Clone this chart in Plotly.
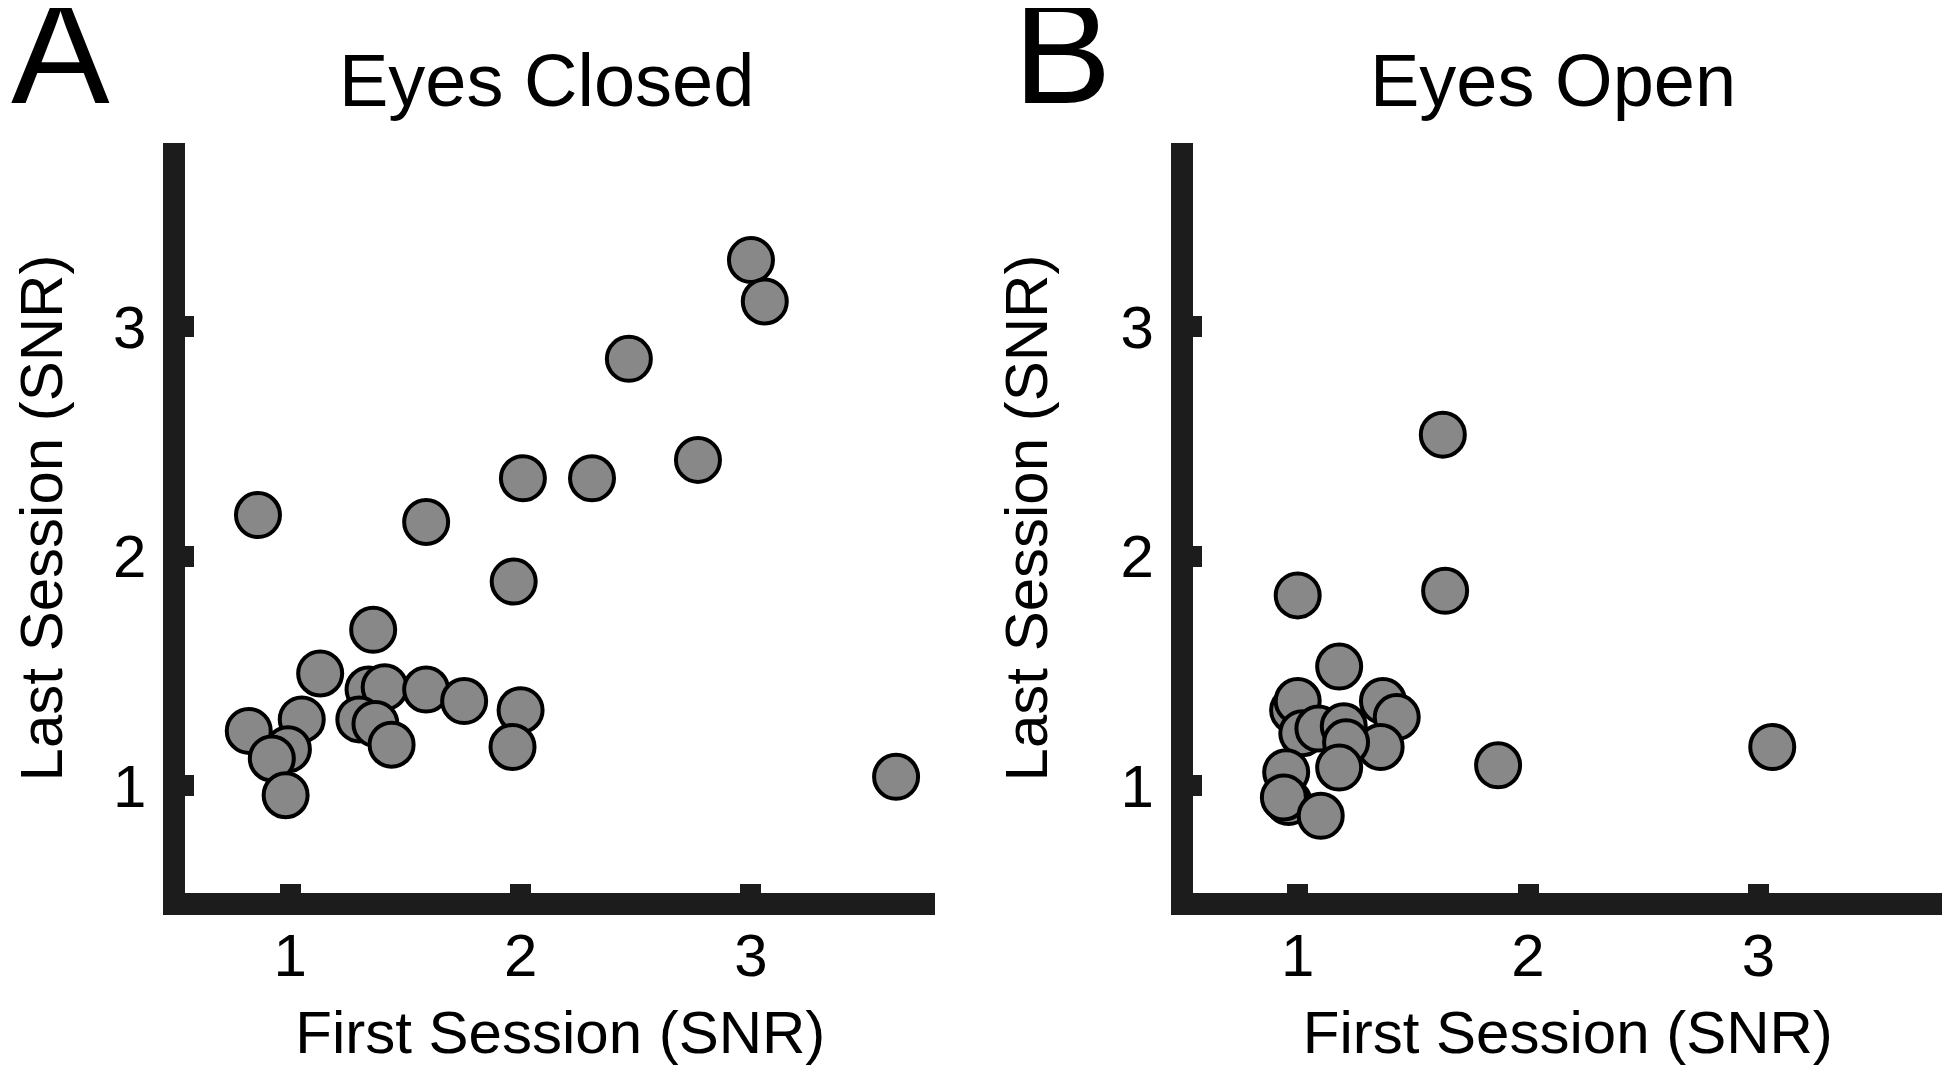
import plotly.graph_objects as go

# Eyes closed: first session vs last session SNR
closed_first = [0.86, 0.82, 1.05, 1.13, 0.99, 0.92, 0.98, 1.36, 1.34, 1.41, 1.30, 1.37, 1.44,
                1.59, 1.755, 2.00, 1.965, 1.97, 1.59, 2.01, 2.31, 2.77, 2.47, 3.00, 3.06, 3.63]
closed_last = [2.18, 1.24, 1.29, 1.49, 1.16, 1.12, 0.96, 1.68, 1.42, 1.43, 1.29, 1.27, 1.18,
               1.42, 1.37, 1.33, 1.17, 1.89, 2.15, 2.34, 2.34, 2.42, 2.86, 3.29, 3.11, 1.04]

# Eyes open
open_first = [1.00, 1.64, 1.63, 1.18, 0.98, 1.00, 1.37, 1.43, 1.36, 1.02, 1.09, 1.20, 1.21,
              1.18, 0.95, 0.96, 0.94, 1.10, 1.87, 3.06]
open_last = [1.83, 1.85, 2.53, 1.52, 1.33, 1.37, 1.37, 1.30, 1.17, 1.23, 1.25, 1.26, 1.19,
             1.08, 1.06, 0.93, 0.95, 0.87, 1.09, 1.17]

tick_vals = [1, 2, 3]
tick_text = ['1', '2', '3']

FONT = 'Liberation Sans, Arial, sans-serif'
INK = '#1c1c1c'
# page body has an 8px margin, so the figure is 8px smaller each way
W, H = 1942, 1064

marker = dict(size=44, color='#888888', line=dict(color='black', width=4))

fig = go.Figure()
fig.add_trace(go.Scatter(x=closed_first, y=closed_last, mode='markers', marker=marker,
                         xaxis='x', yaxis='y', showlegend=False))
fig.add_trace(go.Scatter(x=open_first, y=open_last, mode='markers', marker=marker,
                         xaxis='x2', yaxis='y2', showlegend=False))

axis_common = dict(
    range=[0.545, 3.8], showline=True, linewidth=22, linecolor=INK,
    ticks='inside', ticklen=9, tickwidth=21, tickcolor=INK,
    tickvals=tick_vals, ticktext=tick_text, showgrid=False, zeroline=False,
    tickfont=dict(family=FONT, size=60, color='black'),
)
xaxis_common = dict(axis_common, ticklabelstandoff=-11)
yaxis_common = dict(axis_common, range=[0.534, 3.8], ticklabelstandoff=5)

title_font = dict(family=FONT, size=60, color='black')
ydom = [0.16823, 0.87312]

fig.update_layout(
    width=W, height=H,
    margin=dict(l=0, r=0, t=0, b=0),
    paper_bgcolor='white', plot_bgcolor='white',
    xaxis=dict(xaxis_common, domain=[0.09042, 0.47693], anchor='y',
               title=dict(text='First Session (SNR)', font=title_font, standoff=33)),
    yaxis=dict(yaxis_common, domain=ydom, anchor='x',
               title=dict(text='Last Session (SNR)', font=title_font, standoff=63)),
    xaxis2=dict(xaxis_common, domain=[0.60973, 0.99624], anchor='y2',
                title=dict(text='First Session (SNR)', font=title_font, standoff=33)),
    yaxis2=dict(yaxis_common, domain=ydom, anchor='x2',
                title=dict(text='Last Session (SNR)', font=title_font, standoff=63)),
)

# panel titles and letters (positions in screenshot pixels)
for txt, x, y, size in [('Eyes Closed', 545, 80, 74), ('Eyes Open', 1553, 80, 74),
                        ('A', 59, 52, 148), ('B', 1062, 52, 148)]:
    fig.add_annotation(text=txt, x=(x - 8) / W, y=1 - (y - 8) / H, xref='paper', yref='paper',
                       xanchor='center', yanchor='middle', showarrow=False,
                       font=dict(family=FONT, size=size, color='black'))

fig.write_html('out.html')
